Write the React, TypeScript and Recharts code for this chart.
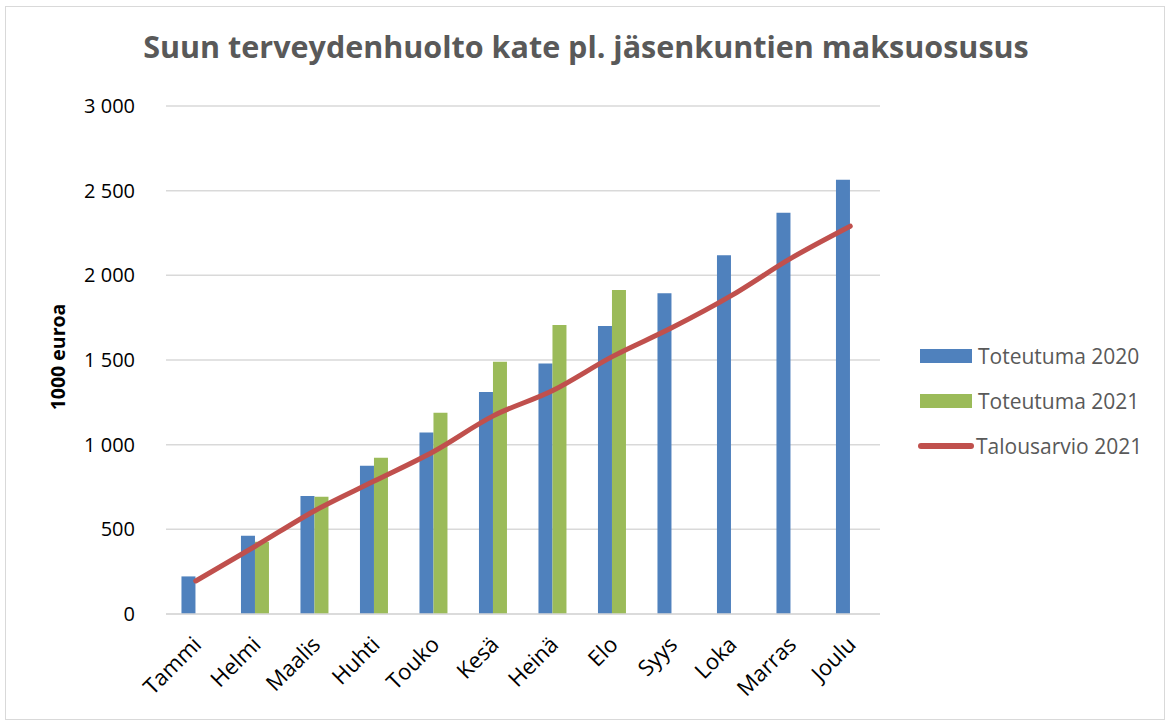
import React from "react";
import {
  ComposedChart,
  Bar,
  Line,
  XAxis,
  YAxis,
  CartesianGrid,
} from "recharts";

const months = ["Tammi", "Helmi", "Maalis", "Huhti", "Touko", "Kesä", "Heinä", "Elo", "Syys", "Loka", "Marras", "Joulu"];
const toteutuma2020 = [222, 462, 697, 876, 1072, 1311, 1480, 1701, 1894, 2118, 2370, 2565];
const toteutuma2021 = [null, 427, 693, 923, 1188, 1490, 1707, 1913, null, null, null, null];
const talousarvio2021 = [195, 400, 610, 785, 960, 1170, 1320, 1520, 1690, 1880, 2100, 2290];
const yTicks = [0, 500, 1000, 1500, 2000, 2500, 3000];

const data = months.map((m, i) => ({
  month: m,
  t2020: toteutuma2020[i],
  t2021: toteutuma2021[i],
  ta2021: talousarvio2021[i],
}));

const font = "'Open Sans', sans-serif";

const fmt = (v: number) => (v >= 1000 ? `${Math.floor(v / 1000)} ${String(v % 1000).padStart(3, "0")}` : String(v));

function MonthTick(props: any) {
  const { x, y, payload } = props;
  return (
    <text
      transform={`translate(${x + 7},${y + 32}) rotate(-45)`}
      textAnchor="end"
      fontSize={22}
      fontFamily={font}
      fill="#000"
    >
      {payload.value}
    </text>
  );
}

function LegendBox() {
  const items = [
    { label: "Toteutuma 2020", color: "#4F81BD", line: false },
    { label: "Toteutuma 2021", color: "#9BBB59", line: false },
    { label: "Talousarvio 2021", color: "#C0504D", line: true },
  ];
  return (
    <div style={{ fontFamily: font, fontSize: 21, color: "#595959" }}>
      {items.map((it) => (
        <div key={it.label} style={{ display: "flex", alignItems: "center", height: 45 }}>
          <div
            style={{
              width: it.line ? 56 : 52,
              height: it.line ? 6 : 14,
              borderRadius: it.line ? 3 : 0,
              background: it.color,
              marginRight: it.line ? 2 : 6,
              marginLeft: it.line ? -2 : 0,
            }}
          />
          <span>{it.label}</span>
        </div>
      ))}
    </div>
  );
}

export default function App() {
  return (
    <div style={{ position: "relative", width: 1168, height: 722, background: "#fff" }}>
      <style>{"body{margin:0}"}</style>
      <div
        style={{
          position: "absolute",
          left: 5,
          top: 6,
          width: 1160,
          height: 714,
          border: "1.5px solid #D9D9D9",
          boxSizing: "border-box",
        }}
      />
      <ComposedChart
        width={1168}
        height={722}
        data={data}
        margin={{ top: 106, right: 288, bottom: 0, left: 0 }}
        barGap={0}
        barCategoryGap="26%"
        style={{ position: "absolute", left: 0, top: 0 }}
      >
        <CartesianGrid vertical={false} stroke="#D9D9D9" strokeWidth={1.5} />
        <XAxis
          dataKey="month"
          tick={<MonthTick />}
          tickLine={false}
          tickSize={0}
          tickMargin={0}
          interval={0}
          axisLine={{ stroke: "#D9D9D9", strokeWidth: 1.5 }}
          height={108}
        />
        <YAxis
          width={166}
          domain={[0, 3000]}
          ticks={yTicks}
          tickFormatter={fmt}
          tickLine={false}
          axisLine={false}
          tickSize={0}
          tickMargin={31}
          tick={{ fontSize: 20, fontFamily: font, fill: "#000" }}
        />
        <Bar dataKey="t2020" name="Toteutuma 2020" fill="#4F81BD" isAnimationActive={false} />
        <Bar dataKey="t2021" name="Toteutuma 2021" fill="#9BBB59" isAnimationActive={false} />
        <Line
          dataKey="ta2021"
          name="Talousarvio 2021"
          type="monotone"
          stroke="#C0504D"
          strokeWidth={5}
          dot={false}
          strokeLinecap="round"
          isAnimationActive={false}
        />
      </ComposedChart>
      <div
        style={{
          position: "absolute",
          top: 25,
          left: 0,
          width: 1172,
          textAlign: "center",
          fontFamily: font,
          fontWeight: 700,
          fontSize: 30.5,
          color: "#595959",
        }}
      >
        Suun terveydenhuolto kate pl. jäsenkuntien maksuosusus
      </div>
      <div
        style={{
          position: "absolute",
          left: 57,
          top: 357,
          transform: "translate(-50%,-50%) rotate(-90deg)",
          fontFamily: font,
          fontWeight: 700,
          fontSize: 19.5,
          color: "#000",
          whiteSpace: "nowrap",
        }}
      >
        1000 euroa
      </div>
      <div style={{ position: "absolute", left: 920, top: 333 }}>
        <LegendBox />
      </div>
    </div>
  );
}
